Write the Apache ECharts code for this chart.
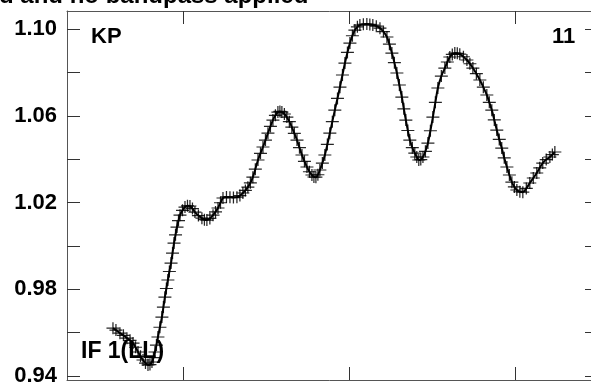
<!DOCTYPE html>
<html>
<head>
<meta charset="utf-8">
<script src="https://cdn.jsdelivr.net/npm/echarts@6/dist/echarts.min.js"></script>
<style>html,body{margin:0;padding:0;background:#fff}#c{width:591px;height:384px}</style>
</head>
<body>
<div id="c"></div>
<script>
// Channel numbers (x) and normalised amplitude (y)
var channels = [57.7,59.5,61.9,64.0,66.1,68.0,69.8,71.3,72.8,74.3,75.8,77.3,78.8,80.0,81.2,82.1,83.0,83.9,84.8,86.0,87.2,88.1,89.0,89.9,90.8,91.7,92.7,93.6,94.5,95.4,96.3,97.2,98.1,99.6,101.1,102.6,104.1,105.6,107.1,109.2,111.3,112.8,114.3,116.1,118.0,119.5,121.0,122.5,124.0,126.1,128.2,130.3,132.4,134.2,136.0,137.5,139.0,140.5,142.0,143.5,145.1,146.6,148.1,149.6,151.1,152.6,154.1,155.6,157.1,158.3,159.5,161.0,162.5,164.0,165.5,167.0,168.6,170.1,171.6,173.1,174.6,176.1,177.6,178.8,180.0,181.2,182.4,183.9,185.4,186.9,188.4,189.9,191.4,193.0,194.5,196.0,197.5,199.0,200.5,202.0,203.5,205.0,206.5,208.6,210.7,212.5,214.3,216.4,218.6,220.7,222.8,224.3,225.8,227.3,228.8,230.3,231.8,233.0,234.2,235.4,236.6,238.1,239.6,240.8,242.0,243.2,244.5,246.0,247.5,249.0,250.5,252.0,253.5,255.6,257.7,259.2,260.7,262.2,263.7,265.2,266.7,268.9,271.0,272.8,274.6,276.7,278.8,280.9,283.0,284.5,286.0,287.5,289.0,290.5,292.0,293.5,295.1,296.6,298.1,299.6,301.1,302.9,304.7,306.8,308.9,311.0,313.1,314.9,316.7,318.8,321.0,322.5,324.0];
var amplitudes = [0.9621,0.9612,0.9598,0.9588,0.9575,0.9565,0.9552,0.9533,0.9511,0.9491,0.9474,0.9460,0.9451,0.9453,0.9465,0.9485,0.9511,0.9543,0.9580,0.9625,0.9672,0.9718,0.9764,0.9804,0.9843,0.9882,0.9921,0.9967,1.0013,1.0051,1.0087,1.0117,1.0142,1.0164,1.0179,1.0185,1.0184,1.0172,1.0156,1.0140,1.0128,1.0121,1.0119,1.0127,1.0142,1.0157,1.0175,1.0199,1.0221,1.0226,1.0225,1.0223,1.0225,1.0232,1.0244,1.0256,1.0271,1.0291,1.0317,1.0354,1.0396,1.0427,1.0456,1.0488,1.0520,1.0551,1.0580,1.0602,1.0617,1.0620,1.0617,1.0608,1.0594,1.0573,1.0548,1.0519,1.0488,1.0453,1.0419,1.0390,1.0364,1.0342,1.0327,1.0318,1.0317,1.0328,1.0350,1.0382,1.0419,1.0468,1.0520,1.0573,1.0626,1.0680,1.0732,1.0788,1.0843,1.0892,1.0935,1.0969,1.0995,1.1010,1.1018,1.1022,1.1023,1.1021,1.1018,1.1013,1.1004,1.0988,1.0963,1.0930,1.0889,1.0845,1.0797,1.0742,1.0686,1.0632,1.0580,1.0532,1.0488,1.0453,1.0428,1.0410,1.0396,1.0398,1.0410,1.0436,1.0474,1.0531,1.0594,1.0662,1.0728,1.0783,1.0820,1.0848,1.0871,1.0883,1.0889,1.0888,1.0884,1.0872,1.0857,1.0840,1.0820,1.0794,1.0765,1.0732,1.0696,1.0662,1.0626,1.0581,1.0534,1.0491,1.0451,1.0406,1.0364,1.0327,1.0294,1.0272,1.0258,1.0250,1.0248,1.0265,1.0290,1.0313,1.0336,1.0360,1.0382,1.0398,1.0410,1.0421,1.0433];
var xTicks = [100, 200, 300];
var yTicks = [0.94, 0.96, 0.98, 1.00, 1.02, 1.04, 1.06, 1.08, 1.10];
var yLabels = [0.94, 0.98, 1.02, 1.06, 1.10];
var titleText = 'd and no bandpass applied';
var stokesLabel = 'KP';
var plotNumber = '11';
var ifLabel = 'IF 1(LL)';

var pts = channels.map(function (c, i) { return [c, amplitudes[i]]; });
var FONT = 'Liberation Sans, Arial, sans-serif';
var axisLineStyle = { color: '#555', width: 1 };
var tickStyle = { color: '#333', width: 1 };

function xAx(pos) {
  return {
    type: 'value', position: pos, min: 30, max: 350,
    axisLine: { show: true, lineStyle: axisLineStyle },
    axisTick: { show: true, inside: true, length: 13, customValues: xTicks, lineStyle: tickStyle },
    axisLabel: { show: false },
    splitLine: { show: false }
  };
}
function yAx(pos, labels) {
  return {
    type: 'value', position: pos, min: 0.9382, max: 1.1083,
    axisLine: { show: true, lineStyle: axisLineStyle },
    axisTick: { show: true, inside: true, length: 13, customValues: yTicks, lineStyle: tickStyle },
    axisLabel: labels ? {
      show: true, customValues: yLabels, margin: 10,
      fontFamily: FONT, fontWeight: 'bold', fontSize: 22, color: '#000',
      formatter: function (v) { return v.toFixed(2); }
    } : { show: false },
    splitLine: { show: false }
  };
}

var chart = echarts.init(document.getElementById('c'), null, { renderer: 'canvas' });
chart.setOption({
  animation: false,
  backgroundColor: '#fff',
  grid: { left: 67, top: 11, right: -7, bottom: 4, containLabel: false, outerBoundsMode: 'none' },
  xAxis: [xAx('bottom'), xAx('top')],
  yAxis: [yAx('left', true), yAx('right', false)],
  graphic: [
    { type: 'text', x: -1, y: -16, style: { text: titleText, font: 'bold 24px ' + FONT, fill: '#000' } },
    { type: 'text', x: 91, y: 26, style: { text: stokesLabel, font: 'bold 22px ' + FONT, fill: '#000' } },
    { type: 'text', x: 552, y: 26, style: { text: plotNumber, font: 'bold 22px ' + FONT, fill: '#000' } },
    { type: 'text', x: 81, y: 340, z: 1, style: { text: ifLabel, font: 'bold 23px ' + FONT, fill: '#000' } }
  ],
  series: [
    {
      type: 'scatter', data: pts, z: 3,
      symbol: 'path://M0,6H13M6.5,0V12', symbolSize: [13, 12],
      itemStyle: { color: 'none', borderColor: '#000', borderWidth: 1.2, opacity: 0.85 }
    },
    {
      type: 'line', data: pts, z: 4, smooth: 0.3, symbol: 'none',
      lineStyle: { color: '#000', width: 2 }
    }
  ]
});
</script>
</body>
</html>
